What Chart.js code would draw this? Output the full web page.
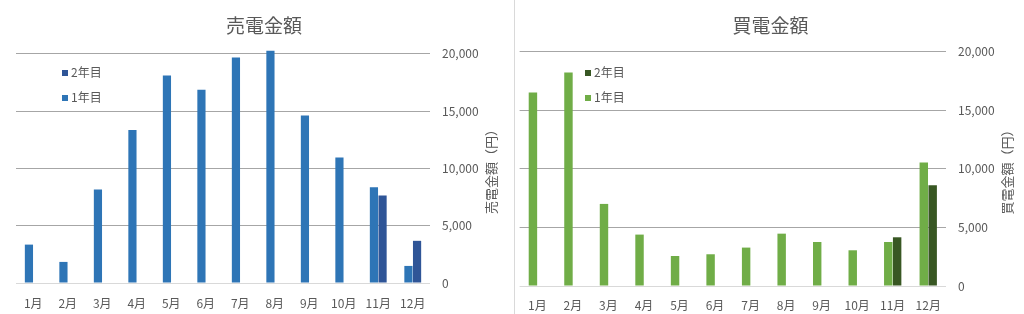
<!DOCTYPE html>
<html>
<head>
<meta charset="utf-8">
<script src="https://cdn.jsdelivr.net/npm/chart.js@4"></script>
<style>
  html, body { margin: 0; padding: 0; background: #fff; }
  body { width: 1024px; height: 314px; position: relative; overflow: hidden;
         font-family: "Noto Sans CJK JP", "Noto Sans", sans-serif; }
  .panel { position: absolute; top: 0; height: 314px; }
  #leftPanel { left: 0; width: 512px; }
  #rightPanel { left: 516px; width: 508px; }
  #divider { position: absolute; left: 514px; top: 0; width: 1px; height: 314px; background: #d9d9d9; }
  .legend { position: absolute; font-size: 12px; color: #595959; }
  .legend-item { position: absolute; left: 0; white-space: nowrap; line-height: 14px; }
  .legend-item span.box { display: inline-block; width: 6px; height: 6px; margin-right: 3px; vertical-align: 1px; }
</style>
</head>
<body>
<div class="panel" id="leftPanel"><canvas id="sellChart"></canvas><div class="legend" id="sellLegend"></div></div>
<div id="divider"></div>
<div class="panel" id="rightPanel"><canvas id="buyChart"></canvas><div class="legend" id="buyLegend"></div></div>
<script>
const months = ["1月", "2月", "3月", "4月", "5月", "6月", "7月", "8月", "9月", "10月", "11月", "12月"];

// 売電金額 (円)
const sellYear1 = [3350, 1840, 8160, 13360, 18100, 16870, 19680, 20260, 14620, 10960, 8360, 1490];
const sellYear2 = [null, null, null, null, null, null, null, null, null, null, 7630, 3680];

// 買電金額 (円)
const buyYear1 = [16520, 18230, 7010, 4390, 2560, 2710, 3280, 4470, 3760, 3050, 3760, 10540];
const buyYear2 = [null, null, null, null, null, null, null, null, null, null, 4160, 8600];

const yTicks = [0, 5000, 10000, 15000, 20000];

const FONT = '"Noto Sans CJK JP", "Noto Sans", sans-serif';
const TEXT_GREY = "#595959";

// right-side axis title, reading bottom to top
const axisTitlePlugin = {
  id: "axisTitle",
  afterDraw(chart, args, opts) {
    const { ctx, chartArea } = chart;
    ctx.save();
    ctx.translate(chartArea.right + opts.offset, (chartArea.top + chartArea.bottom) / 2);
    ctx.rotate(-Math.PI / 2);
    ctx.font = "13px " + FONT;
    ctx.fillStyle = TEXT_GREY;
    ctx.textAlign = "center";
    ctx.textBaseline = "middle";
    ctx.fillText(opts.text, 0, 0);
    ctx.restore();
  },
};

function makeChart(canvasId, cfg) {
  const ctx = document.getElementById(canvasId).getContext("2d");
  return new Chart(ctx, {
    type: "bar",
    data: {
      labels: months,
      datasets: [
        { label: "1年目", data: cfg.year1, backgroundColor: cfg.colors[0],
          categoryPercentage: 0.5, barPercentage: 0.95, clip: false },
        { label: "2年目", data: cfg.year2, backgroundColor: cfg.colors[1],
          categoryPercentage: 0.5, barPercentage: 0.95, clip: false },
      ],
    },
    options: {
      responsive: false,
      animation: false,
      layout: { padding: { left: cfg.padLeft, right: 0, top: 0, bottom: 0 } },
      plugins: {
        legend: { display: false },
        tooltip: { enabled: false },
        title: {
          display: true,
          text: cfg.title,
          color: TEXT_GREY,
          font: { family: FONT, size: 19, weight: "normal" },
          padding: { top: cfg.titleTop, bottom: cfg.titleBottom },
        },
        axisTitle: { text: cfg.axisTitle, offset: 61 },
      },
      scales: {
        x: {
          grid: { display: false, drawTicks: false },
          border: { display: false },
          ticks: { color: TEXT_GREY, padding: cfg.xPad, maxRotation: 0,
                   font: { family: FONT, size: 12 } },
          afterFit(scale) { scale.height = cfg.xHeight; },
        },
        y: {
          position: "right",
          min: 0,
          max: 20000,
          afterBuildTicks(scale) { scale.ticks = yTicks.map((v) => ({ value: v })); },
          grid: {
            drawTicks: false,
            color: (c) => (c.tick && c.tick.value === 0 ? "#d9d9d9" : "#a6a6a6"),
          },
          border: { display: false },
          ticks: {
            color: TEXT_GREY,
            padding: 12,
            font: { family: FONT, size: 12 },
            callback: (v) => Number(v).toLocaleString("en-US"),
          },
          afterFit(scale) { scale.width = cfg.yWidth; },
        },
      },
    },
    plugins: [axisTitlePlugin],
  });
}

function renderLegend(divId, chart, pos) {
  const el = document.getElementById(divId);
  el.style.left = pos.x + "px";
  el.style.top = pos.y + "px";
  // 2年目 on top, 1年目 below
  const items = chart.data.datasets.slice().reverse();
  el.innerHTML = items
    .map(
      (ds, i) => `
    <div class="legend-item" style="top:${i * 25}px">
      <span class="box" style="background:${ds.backgroundColor}"></span>${ds.label}
    </div>`,
    )
    .join("");
}

function setupCanvas(id, w, h) {
  const c = document.getElementById(id);
  c.width = w;
  c.height = h;
  c.style.width = w + "px";
  c.style.height = h + "px";
}

setupCanvas("sellChart", 512, 314);
setupCanvas("buyChart", 508, 314);

const sellChart = makeChart("sellChart", {
  title: "売電金額",
  axisTitle: "売電金額（円）",
  year1: sellYear1,
  year2: sellYear2,
  colors: ["#2e75b6", "#2f5597"],
  padLeft: 16,
  titleTop: 14,
  titleBottom: 17,
  xPad: 13,
  xHeight: 31,
  yWidth: 82,
});

const buyChart = makeChart("buyChart", {
  title: "買電金額",
  axisTitle: "買電金額（円）",
  year1: buyYear1,
  year2: buyYear2,
  colors: ["#70ad47", "#385723"],
  padLeft: 1,
  titleTop: 14,
  titleBottom: 15,
  xPad: 12,
  xHeight: 28,
  yWidth: 78,
});

renderLegend("sellLegend", sellChart, { x: 62, y: 65 });
renderLegend("buyLegend", buyChart, { x: 69, y: 65 });
</script>
</body>
</html>
